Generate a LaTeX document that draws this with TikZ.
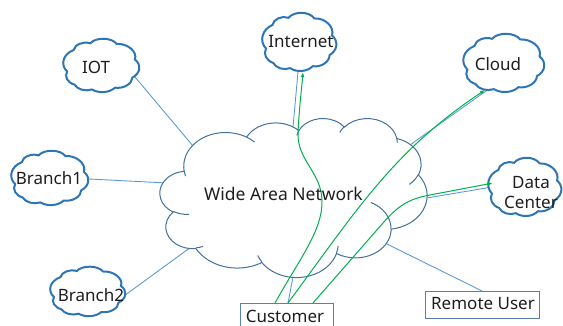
\documentclass[tikz,border=0pt]{standalone}
\usepackage{fontspec}
\setmainfont{Noto Sans}
\usetikzlibrary{arrows.meta}
\definecolor{cloudblue}{HTML}{2E75B6}
\definecolor{wanline}{HTML}{41719C}
\definecolor{linkblue}{HTML}{5B9BD5}
\definecolor{linkgreen}{HTML}{00B050}
\definecolor{boxline}{HTML}{5B7FAA}
\definecolor{txt}{HTML}{1E1E1E}

% elliptical arc given in DrawingML style (visual start angle, sweep)
\newcommand\defarc[5]{%
  \pgfmathsetmacro\tmpA{atan2((#2)*sin(#4),(#3)*cos(#4))}%
  \pgfmathsetmacro\tmpB{atan2((#2)*sin((#4)+(#5)),(#3)*cos((#4)+(#5)))}%
  \pgfmathsetmacro\tmpD{mod(\tmpB-\tmpA+720,360)}%
  \expandafter\xdef\csname cloudarc#1\endcsname{arc[x radius=#2,y radius=#3,start angle=\tmpA,delta angle=\tmpD]}%
}
\defarc{A}{67.53}{91.90}{-190.4875}{123.7805}
\defarc{B}{53.33}{72.67}{-144.1024}{89.9452}
\defarc{C}{43.65}{59.45}{-145.8079}{99.7230}
\defarc{D}{48.57}{65.95}{-130.9861}{117.2417}
\defarc{E}{53.33}{72.73}{-78.7089}{109.0269}
\defarc{F}{67.75}{92.20}{-46.2673}{130.269}
\defarc{G}{57.85}{78.67}{0.625}{114.0333}
\defarc{H}{67.52}{92.15}{22.4516}{115.1726}
\defarc{I}{77.20}{105.43}{66.2426}{75.711}
\defarc{J}{43.60}{59.18}{-274.9421}{146.7356}
\defarc{K}{43.45}{59.45}{-246.8285}{152.5189}
\defarc{a}{43.45}{59.45}{86.742}{26.4295}
\defarc{b}{43.60}{59.18}{73.6105}{11.4475}
\defarc{c}{67.52}{92.15}{137.6242}{14.0811}
\defarc{d}{67.52}{92.15}{6.4533}{15.9984}
\defarc{e}{57.85}{78.67}{-70.2924}{70.9174}
\defarc{f}{53.33}{72.73}{30.318}{27.7515}
\defarc{g}{48.57}{65.95}{-13.7443}{14.8589}
\defarc{h}{48.57}{65.95}{-149.1815}{18.1954}
\defarc{i}{43.65}{59.45}{-163.4943}{17.6864}
\defarc{j}{67.53}{91.90}{-66.707}{12.3194}
\defarc{k}{67.53}{91.90}{157.6544}{11.8582}

\newcommand\cloudouter{(39.00,143.70) \cloudarcA \cloudarcB \cloudarcC \cloudarcD
  \cloudarcE \cloudarcF \cloudarcG \cloudarcH \cloudarcI \cloudarcJ \cloudarcK -- cycle}
\newcommand\cloudinner{(46.93,261.77) \cloudarca (69.28,348.99) \cloudarcb
  (164.78,390.90) \cloudarcc (288.27,347.51) \cloudarcd (341.29,229.54) \cloudarce
  (417.98,153.54) \cloudarcf (383.24,54.26) \cloudarcg (290.78,39.52) \cloudarch
  (221.41,47.20) \cloudarci (140.00,51.92) \cloudarcj (41.27,157.89) \cloudarck}

% smoother small cloud in a 100 x 100 box (y down)
\newcommand\smallouter{(9,60) to[bend right=50] (17,24) to[bend right=55] (37,13)
  to[bend right=60] (69,14) to[bend right=55] (91,40) to[bend right=50] (88,70)
  to[bend right=50] (67,87) to[bend right=45] (39,90) to[bend right=45] (18,82)
  to[bend right=45] (9,60) -- cycle}

% x0 y0 w h
\newcommand\smallcloud[4]{%
  \begin{scope}[shift={(#1,#2)},xscale=#3/100,yscale=#4/100,
      shift={(50,50)},xscale=1.06,yscale=1.09,shift={(-50,-50)}]
    \path[fill=white,draw=cloudblue,line width=2pt] \smallouter;
  \end{scope}}

\begin{document}
\begin{tikzpicture}[x=1pt,y=1pt,
  lbl/.style={text=txt,font=\fontsize{17}{20}\selectfont,inner sep=0pt},
  bluelink/.style={draw=linkblue,line width=0.9pt,shorten <=-5pt,shorten >=-6pt},
  greenlink/.style={draw=linkgreen,line width=1pt,-{Latex[length=5pt,width=3.6pt]}},
  boxnode/.style={draw=boxline,line width=1pt,fill=white,inner sep=0pt,anchor=north west,
    text=txt,font=\fontsize{17}{20}\selectfont}]
\begin{scope}[yscale=-1]
\useasboundingbox (0,0) rectangle (563,326);

% connector end points
\coordinate (iotE) at (135,77);   \coordinate (wanIot) at (193,146);
\coordinate (brAE) at (89,179);   \coordinate (wanBrA) at (167,183);
\coordinate (brBE) at (128,293);  \coordinate (wanBrB) at (187,250);
\coordinate (inetE) at (298,72);  \coordinate (wanInet) at (293,127);
\coordinate (cldE) at (486,91);   \coordinate (wanCld) at (410,145);
\coordinate (dcE) at (486,188);   \coordinate (wanDc) at (427,198);
\coordinate (ruE) at (482,291);   \coordinate (wanRu) at (387,244);
\coordinate (cuE) at (288,303);   \coordinate (wanCu) at (293,277);

% blue links
\draw[bluelink] (iotE) -- (wanIot);
\draw[bluelink] (brAE) -- (wanBrA);
\draw[bluelink] (brBE) -- (wanBrB);
\draw[bluelink] (inetE) -- (wanInet);
\draw[bluelink] (cldE) -- (wanCld);
\draw[bluelink] (dcE) -- (wanDc);
\draw[bluelink,shorten <=0pt] (ruE) -- (wanRu);
\draw[bluelink,shorten <=0pt] (cuE) -- (wanCu);

% wide area network cloud
\begin{scope}[shift={(160,118)},xscale=267/432,yscale=159/432]
  \path[fill=white,draw=wanline,line width=1pt] \cloudouter;
  \path[draw=wanline,line width=1pt] \cloudinner;
\end{scope}

% small clouds
\smallcloud{62}{38}{78}{55}
\smallcloud{261}{12}{76}{60}
\smallcloud{462}{33}{83}{60}
\smallcloud{10}{150}{79}{56}
\smallcloud{49}{266}{77}{51}
\smallcloud{487}{157}{75}{60}

% boxes
\node[boxnode,minimum width=93pt,minimum height=30pt] (cust) at (240,303) {};
\node[lbl] (custT) at (285,316) {Customer};
\node[boxnode,minimum width=114pt,minimum height=27pt] (remote) at (425,291) {};
\node[lbl] (remoteT) at (483,304) {Remote User};

% green links
\coordinate (g1s) at (275,303); \coordinate (g1e) at (303,72);
\coordinate (g2s) at (288,303); \coordinate (g2e) at (485,90);
\coordinate (g3s) at (313,303); \coordinate (g3e) at (493,183);
\draw[greenlink] (g1s) .. controls (300,258) and (323,230) .. (322,200)
  .. controls (321,172) and (297,160) .. (298,133)
  .. controls (299,110) and (302,85) .. (g1e);
\draw[greenlink] (g2s) .. controls (360,205) and (395,150) .. (g2e);
\draw[greenlink] (g3s) -- (383,223) .. controls (398,206) and (408,199) .. (430,195) -- (g3e);

% labels
\node[lbl] (iot) at (96,67) {IOT};
\node[lbl] (inet) at (301,42) {Internet};
\node[lbl] (cld) at (498,64) {Cloud};
\node[lbl] (brA) at (49,178) {Branch1};
\node[lbl] (brB) at (91,295) {Branch2};
\node[lbl,align=center,font=\fontsize{17}{20}\selectfont] (dc) at (531,193) {Data\\Center};
\node[lbl,font=\fontsize{17.5}{20}\selectfont] (wan) at (283.5,194) {Wide Area Network};
\end{scope}
\end{tikzpicture}
\end{document}
